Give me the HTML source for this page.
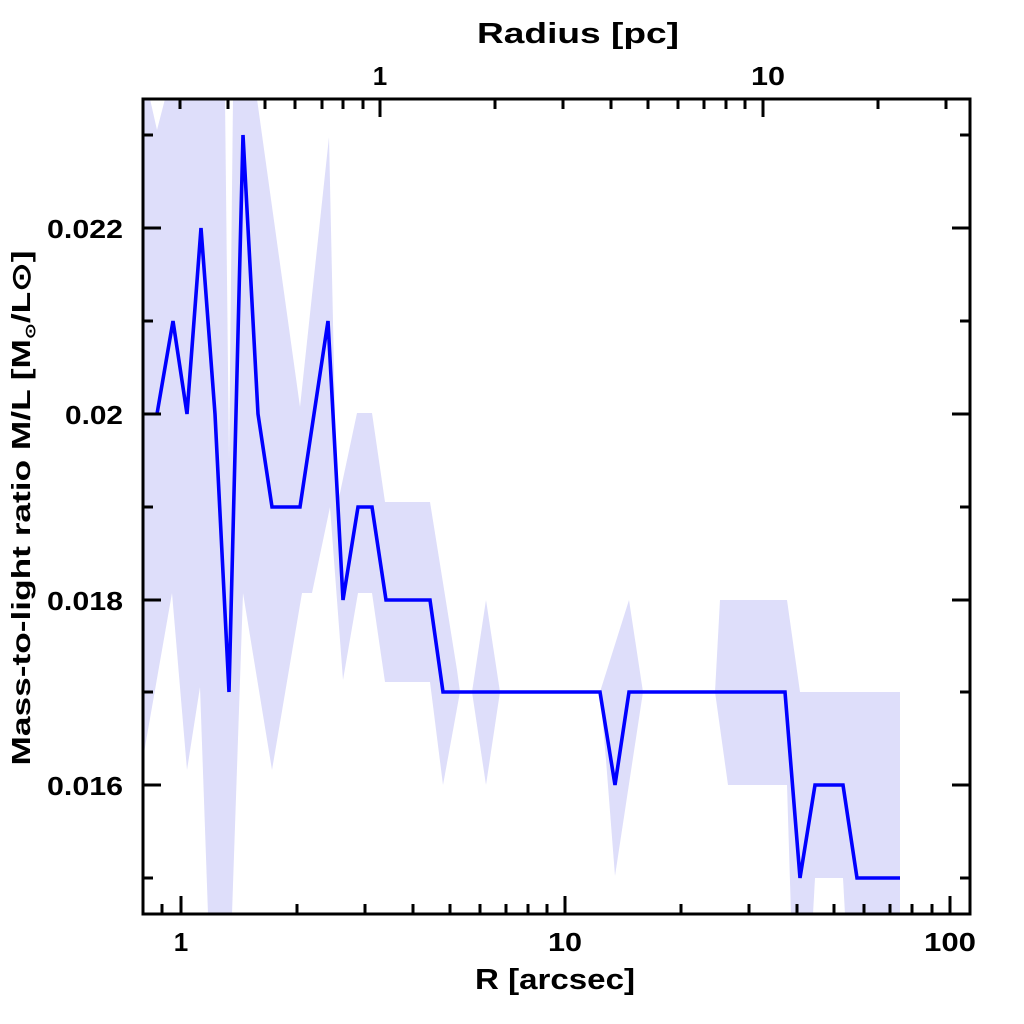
<!DOCTYPE html>
<html><head><meta charset="utf-8"><style>html,body{margin:0;padding:0;background:#fff}svg{display:block}</style></head>
<body>
<svg width="1024" height="1024" viewBox="0 0 1024 1024" xmlns="http://www.w3.org/2000/svg" font-family="Liberation Sans, sans-serif" font-weight="bold">
<defs><clipPath id="c"><rect x="143" y="99" width="827" height="815"/></clipPath></defs>
<g clip-path="url(#c)" fill="#dedefa" stroke="none">
<polygon points="143,99 150,99 157,130 165,99 225,99 229,460 233,99 257,99 300,407 329,137 337,507 357,413 372,413 385,502 430,502 457,670 460,692 443,785 430,682 385,682 372,593 358,593 343,680 330,507 312,593 302,593 272,770 243,593 232,914 208,914 200,687 187,770 172,593 145,747 143,760"/>
<polygon points="472,692 486,600 500,692 486,785"/>
<polygon points="600,692 629,600 643,692 615,876 606,760"/>
<polygon points="715,692 720,600 787,600 800,692 900,692 900,914 845,914 843,878 815,878 813,914 791,914 787,785 728,785"/>
</g>
<g clip-path="url(#c)">
<polyline fill="none" stroke="#0000ff" stroke-width="3.6" stroke-linejoin="miter" points="157,414 173,321 187,414 201,228 215,414 229,692 243,135 258,414 272,507 300,507 328,321 343,600 358,507 372,507 386,600 430,600 443,692 600,692 615,785 629,692 785,692 800,878 815,785 843,785 857,878 900,878"/>
</g>
<rect x="143" y="99" width="827" height="815" fill="none" stroke="#000" stroke-width="3"/>
<g stroke="#000" stroke-width="3">
<path d="M181,914v-18M565,914v-18M950,914v-18"/>
<path d="M162,914v-10M297,914v-10M365,914v-10M413,914v-10M450,914v-10M480,914v-10M506,914v-10M528,914v-10M547,914v-10M681,914v-10M749,914v-10M797,914v-10M834,914v-10M864,914v-10M890,914v-10M912,914v-10M932,914v-10"/>
<path d="M380,99v18M763,99v18"/>
<path d="M180,99v10M228,99v10M265,99v10M295,99v10M322,99v10M343,99v10M363,99v10M495,99v10M563,99v10M611,99v10M648,99v10M678,99v10M704,99v10M726,99v10M745,99v10M878,99v10M946,99v10"/>
<path d="M143,228h18M143,414h18M143,600h18M143,785h18"/>
<path d="M143,135h10M143,321h10M143,507h10M143,692h10M143,878h10"/>
<path d="M970,228h-18M970,414h-18M970,600h-18M970,785h-18"/>
<path d="M970,135h-10M970,321h-10M970,507h-10M970,692h-10M970,878h-10"/>
</g>
<g font-size="26" fill="#000">
<text x="123" y="238" text-anchor="end" textLength="76" lengthAdjust="spacingAndGlyphs">0.022</text>
<text x="123" y="424" text-anchor="end" textLength="58" lengthAdjust="spacingAndGlyphs">0.02</text>
<text x="123" y="610" text-anchor="end" textLength="76" lengthAdjust="spacingAndGlyphs">0.018</text>
<text x="123" y="795" text-anchor="end" textLength="76" lengthAdjust="spacingAndGlyphs">0.016</text>
<text x="181" y="951" text-anchor="middle">1</text>
<text x="565" y="951" text-anchor="middle" textLength="34" lengthAdjust="spacingAndGlyphs">10</text>
<text x="950" y="951" text-anchor="middle" textLength="52" lengthAdjust="spacingAndGlyphs">100</text>
<text x="380" y="85" text-anchor="middle">1</text>
<text x="768" y="85" text-anchor="middle" textLength="34" lengthAdjust="spacingAndGlyphs">10</text>
<text x="578" y="43" text-anchor="middle" textLength="202" lengthAdjust="spacingAndGlyphs" font-size="29">Radius [pc]</text>
<text x="555" y="989" text-anchor="middle" textLength="160" lengthAdjust="spacingAndGlyphs" font-size="29">R [arcsec]</text>
<text transform="translate(30,508) rotate(-90)" text-anchor="middle" font-size="26" textLength="515" lengthAdjust="spacingAndGlyphs">Mass-to-light ratio M/L [M<tspan font-size="14" dy="5">⊙</tspan><tspan dy="-5">/L⊙]</tspan></text>
</g>
</svg>
</body></html>
